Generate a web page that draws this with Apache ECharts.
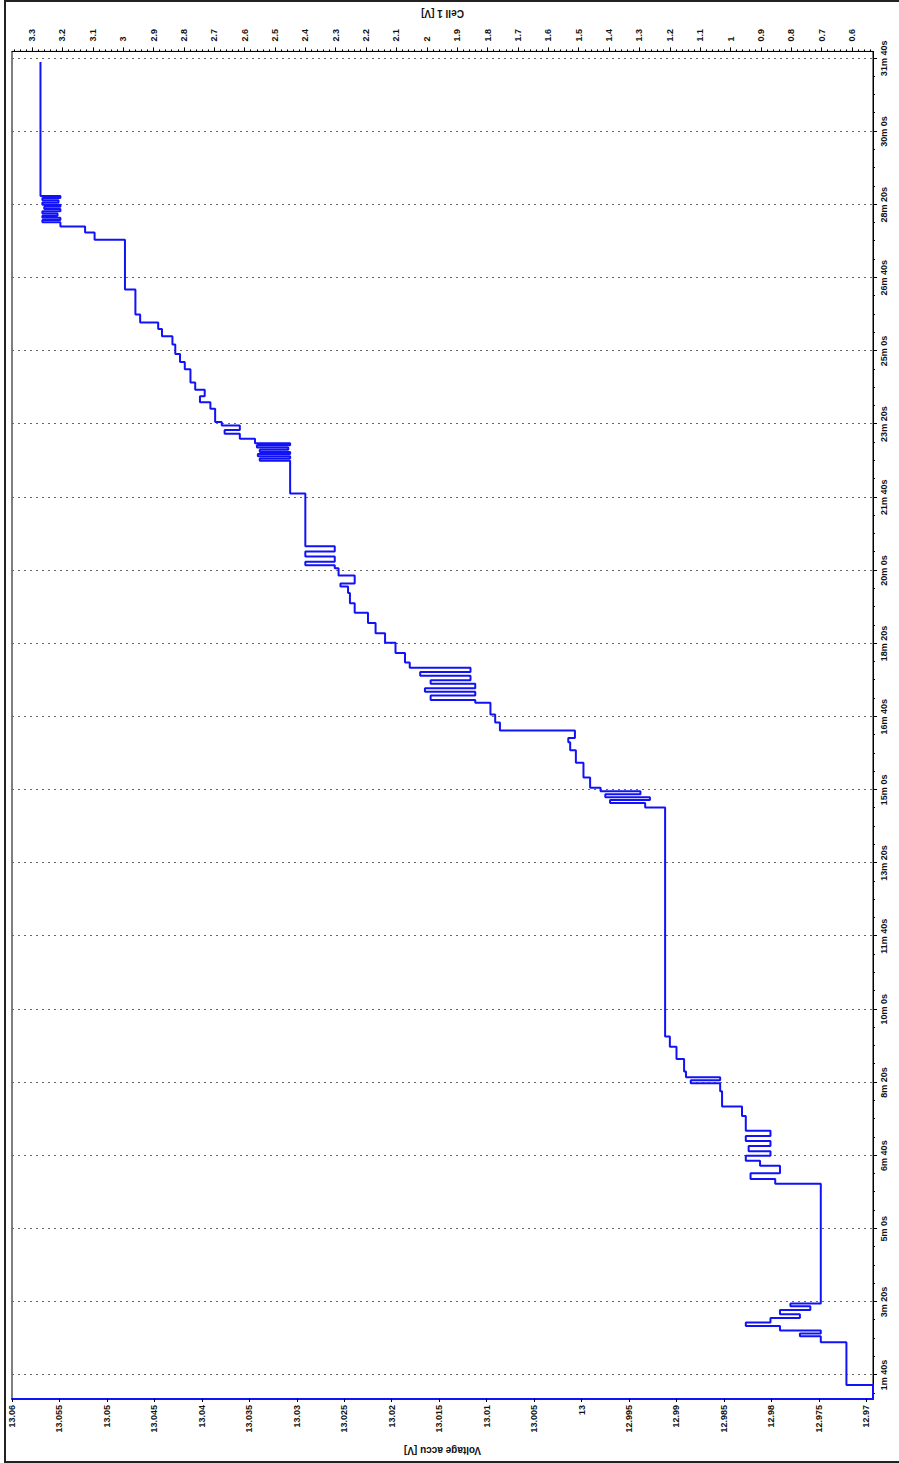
<!DOCTYPE html>
<html>
<head>
<meta charset="utf-8">
<script src="https://cdn.jsdelivr.net/npm/echarts@6/dist/echarts.min.js"></script>
<style>
    html, body { margin: 0; padding: 0; background: #fff; overflow: hidden; }
    #frame {
        position: absolute; left: 4px; top: 0; width: 900px; height: 1459px; z-index: 2;
        pointer-events: none;
        border-top: 2px solid #222; border-left: 2px solid #222; border-bottom: 2px solid #222;
    }
    /* the chart is drawn landscape and turned a quarter turn left */
    #chart {
        position: absolute; left: 0; top: 0; width: 1463px; height: 899px;
        transform-origin: 0 0;
        transform: translate(0px, 1463px) rotate(-90deg);
    }
</style>
</head>
<body>
<div id="frame"></div>
<div id="chart"></div>
<script>
// time in seconds, accu voltage in V (step data)
const TIME_S = [67.3, 86.3, 144.9,
    153, 157, 161, 167, 172, 178, 183, 189, 194, 198,
    361.4, 368, 376, 386, 393, 400, 406, 413, 420, 427, 434,
    454, 467, 488, 499, 503, 507, 515, 532, 549, 563,
    876, 882, 886, 890, 894, 898, 903, 917, 937, 954, 965, 971, 981, 992, 1003,
    1019, 1023, 1029, 1034, 1039, 1045, 1050, 1056, 1061, 1067,
    1074, 1087, 1101, 1114, 1128, 1142, 1155, 1169, 1178, 1182, 1193,
    1203, 1207, 1212, 1219, 1226, 1233, 1305,
    1350, 1353, 1356, 1359, 1362, 1365, 1368, 1371, 1374,
    1380, 1387, 1392, 1398, 1403,
    1421, 1430, 1438, 1447, 1457, 1475, 1485, 1496, 1509, 1520, 1530, 1539, 1550, 1584,
    1652, 1662, 1670, 1676, 1679, 1682, 1685, 1688, 1691, 1694, 1697, 1700, 1703, 1706, 1709, 1712, 1895];
const VOLT_ACCU = [12.9693, 12.9721, 12.9748,
    12.9770, 12.9748, 12.9791, 12.9827, 12.9801, 12.9770, 12.9791, 12.9759, 12.9780, 12.9748,
    12.9796, 12.9822, 12.9791, 12.9812, 12.9827, 12.9801, 12.9824, 12.9801, 12.9827, 12.9801, 12.9827,
    12.9831, 12.9852, 12.9854, 12.9885, 12.9854, 12.9890, 12.9892, 12.9900, 12.9907, 12.9912,
    12.9933, 12.9970, 12.9928, 12.9975, 12.9938, 12.9980, 12.9991, 12.9998, 13.0006, 13.0012, 13.0014, 13.0007, 13.0086, 13.0091, 13.0096,
    13.0112, 13.0159, 13.0112, 13.0165, 13.0112, 13.0159, 13.0117, 13.0170, 13.0117, 13.0181,
    13.0186, 13.0196, 13.0207, 13.0217, 13.0225, 13.0239, 13.0244, 13.0246, 13.0254, 13.0239, 13.0256,
    13.0260, 13.0291, 13.0260, 13.0291, 13.0260, 13.0291, 13.0307,
    13.0339, 13.0307, 13.0341, 13.0307, 13.0339, 13.0309, 13.0342, 13.0307, 13.0344,
    13.0360, 13.0376, 13.0360, 13.0379, 13.0386,
    13.0391, 13.0402, 13.0397, 13.0407, 13.0412, 13.0418, 13.0423, 13.0428, 13.0431, 13.0442, 13.0446, 13.0465, 13.0470, 13.0481,
    13.0513, 13.0523, 13.0549, 13.0568, 13.0549, 13.0568, 13.0552, 13.0568, 13.0549, 13.0566, 13.0549, 13.0568, 13.0551, 13.0568, 13.0549, 13.0570, 13.0570];

const TIME_TICKS = [100, 200, 300, 400, 500, 600, 700, 800, 900, 1000,
    1100, 1200, 1300, 1400, 1500, 1600, 1700, 1800, 1900];
const VOLT_TICKS = [12.97, 12.975, 12.98, 12.985, 12.99, 12.995, 13, 13.005, 13.01, 13.015,
    13.02, 13.025, 13.03, 13.035, 13.04, 13.045, 13.05, 13.055, 13.06];
const CELL_TICKS = [0.6, 0.7, 0.8, 0.9, 1, 1.1, 1.2, 1.3, 1.4, 1.5, 1.6, 1.7, 1.8, 1.9, 2,
    2.1, 2.2, 2.3, 2.4, 2.5, 2.6, 2.7, 2.8, 2.9, 3, 3.1, 3.2, 3.3];

const T_MIN = 67.3, T_MAX = 1909.5;
const V_MIN = 12.9693, V_MAX = 13.06;
const C_MIN = 0.531, C_MAX = 3.366;
const BLUE = '#1212f6';

function subdivide(ticks, n, lo, hi) {
    const step = (ticks[1] - ticks[0]) / n;
    const out = [];
    for (let v = ticks[0] - step * n; v <= ticks[ticks.length - 1] + step * n; v += step) {
        if (v >= lo && v <= hi) out.push(+v.toFixed(6));
    }
    return out;
}

function fmtTime(s) {
    return Math.floor(s / 60) + 'm ' + Math.round(s % 60) + 's';
}

const labelFont = { fontFamily: 'Arial', fontWeight: 'bold', fontSize: 9, color: '#111' };
const nameFont = { fontFamily: 'Arial', fontWeight: 'bold', fontSize: 10, color: '#111' };

const chart = echarts.init(document.getElementById('chart'), null, { renderer: 'svg' });
chart.setOption({
    animation: false,
    backgroundColor: '#fff',
    grid: {
        left: 64, right: 46, top: 12, bottom: 26,
        show: true, borderColor: '#000', borderWidth: 1
    },
    xAxis: [
        {
            type: 'value', min: T_MIN, max: T_MAX, position: 'bottom',
            axisLine: { lineStyle: { color: '#000', width: 1 } },
            axisTick: { customValues: TIME_TICKS, length: 4, lineStyle: { color: '#000' } },
            axisLabel: { customValues: TIME_TICKS, formatter: fmtTime, margin: 6, ...labelFont },
            splitLine: { show: true, lineStyle: { color: '#666', type: [2, 4], width: 1 } }
        },
        {
            type: 'value', min: T_MIN, max: T_MAX, position: 'bottom',
            axisLine: { show: false },
            axisTick: { customValues: subdivide(TIME_TICKS, 4, T_MIN, T_MAX), length: 2, lineStyle: { color: '#000' } },
            axisLabel: { show: false },
            splitLine: { show: false }
        }
    ],
    yAxis: [
        {
            type: 'value', min: V_MIN, max: V_MAX, position: 'left',
            name: 'Voltage accu [V]', nameLocation: 'middle', nameRotate: 90, nameGap: 46,
            nameTextStyle: nameFont,
            axisLine: { show: true, lineStyle: { color: BLUE, width: 2 } },
            axisTick: { show: true, customValues: VOLT_TICKS, length: 3, lineStyle: { color: '#000' } },
            axisLabel: { customValues: VOLT_TICKS, formatter: v => String(+v.toFixed(3)), margin: 6, ...labelFont },
            splitLine: { show: false }
        },
        {
            type: 'value', min: C_MIN, max: C_MAX, position: 'right',
            name: 'Cell 1 [V]', nameLocation: 'middle', nameRotate: 90, nameGap: 31,
            nameTextStyle: nameFont,
            axisLine: { show: true, lineStyle: { color: '#000', width: 1 } },
            axisTick: { show: true, customValues: CELL_TICKS, length: 4, lineStyle: { color: '#000' } },
            axisLabel: { customValues: CELL_TICKS, formatter: v => String(+v.toFixed(1)), margin: 10, ...labelFont },
            splitLine: { show: false }
        },
        {
            type: 'value', min: C_MIN, max: C_MAX, position: 'right',
            axisLine: { show: false },
            axisTick: { show: true, customValues: subdivide(CELL_TICKS, 5, C_MIN, C_MAX), length: 2, lineStyle: { color: '#000' } },
            axisLabel: { show: false },
            splitLine: { show: false }
        }
    ],
    series: [
        {
            name: 'Voltage accu',
            type: 'line',
            step: 'end',
            xAxisIndex: 0,
            yAxisIndex: 0,
            showSymbol: false,
            lineStyle: { color: BLUE, width: 2 },
            data: TIME_S.map((t, i) => [t, VOLT_ACCU[i]])
        }
    ]
});
</script>
</body>
</html>
